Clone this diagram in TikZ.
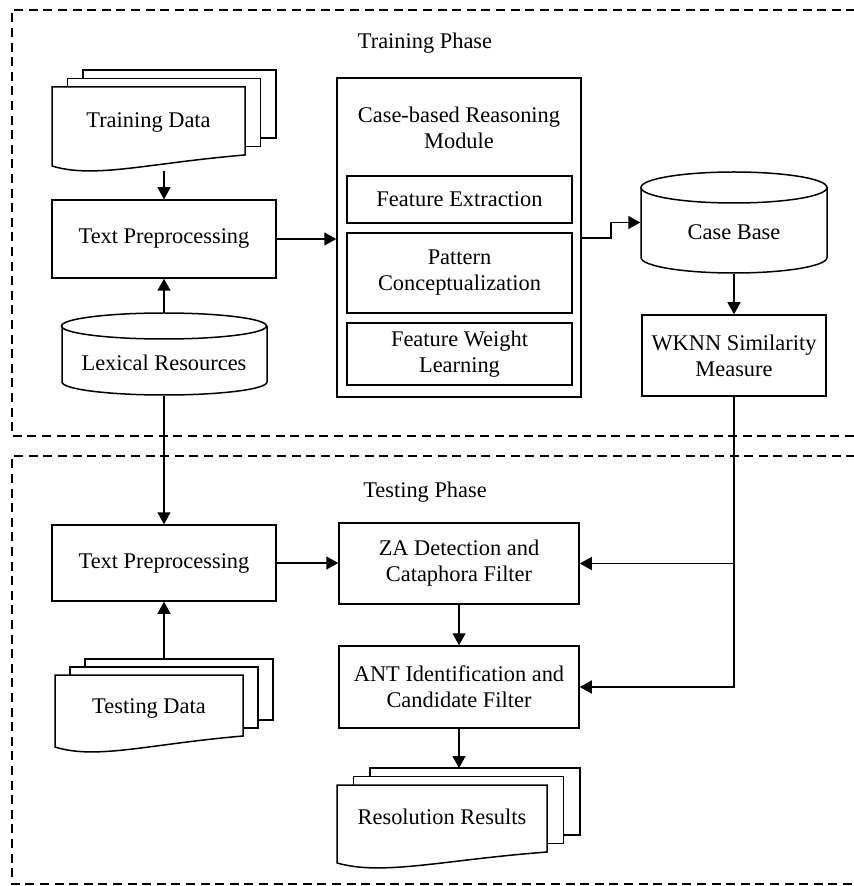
\documentclass[tikz,border=0pt]{standalone}
\usepackage{fontspec}
\setmainfont{Liberation Serif}
\usetikzlibrary{arrows.meta,calc}
\newcommand\docstack[6]{%
  \draw[fill=white] ({#1+2*#5},{#2-2*#6}) rectangle ({#1+#3+2*#5},{#2+#4-2*#6});
  \draw[fill=white] ({#1+#5},{#2-#6}) rectangle ({#1+#3+#5},{#2+#4-#6});
  \draw[fill=white] (#1,#2) -- ({#1+#3},#2) -- ({#1+#3},{#2+#4})
    .. controls ({#1+0.5*#3},{#2+#4+8}) and ({#1+0.22*#3},{#2+#4+24}) .. (#1,{#2+#4+11}) -- cycle;}
\begin{document}
\begin{tikzpicture}[x=0.5pt,y=-0.5pt,line width=0.75pt,
  lbl/.style={inner sep=0pt,align=center,font=\fontsize{11.2}{13}\selectfont},
  box/.style={lbl,draw,rectangle},
  arr/.style={-{Triangle[length=6pt,width=6.5pt]}},
  phase/.style={line width=0.7pt,dash pattern=on 4.5pt off 2.8pt}]
\useasboundingbox (0,0) rectangle (853,886);
% phases
\draw[phase] (870,10) -- (12,10) -- (12,436) -- (870,436);
\draw[phase] (870,456) -- (12,456) -- (12,884) -- (870,884);
\node[lbl] (trp) at (425,43) {Training Phase};
\node[lbl] (tsp) at (425,492) {Testing Phase};
% training
\docstack{52}{87}{193}{68}{15.5}{8.5}
\node[lbl] (td) at (148.5,123) {Training Data};
\coordinate (tdb) at (164,171);
\node[box,minimum width=112pt,minimum height=39pt] (tp1) at (164,239) {Text Preprocessing};
\node[inner sep=0pt,minimum width=102.5pt,minimum height=41pt] (lr) at (164,354) {};
\draw[fill=white] (62,326) -- (62,382) arc[start angle=180,end angle=360,x radius=51.25pt,y radius=6.5pt] -- (267,326);
\draw (164,326) ellipse[x radius=51.25pt,y radius=6.5pt];
\node[lbl] (lrt) at (164,363) {Lexical Resources};
\node[draw,inner sep=0pt,minimum width=122pt,minimum height=159.5pt] (cbr) at (459,237.5) {};
\node[lbl] (cbrt) at (459,128) {Case-based Reasoning\\Module};
\node[box,minimum width=112.5pt,minimum height=23.5pt] (fe) at (459.5,199.5) {Feature Extraction};
\node[box,minimum width=112.5pt,minimum height=40pt] (pc) at (459.5,273) {Pattern\\Conceptualization};
\node[box,minimum width=112.5pt,minimum height=31pt] (fw) at (459.5,354) {Feature Weight\\Learning};
\node[inner sep=0pt,minimum width=93pt,minimum height=50.5pt] (cb) at (734,222.5) {};
\draw[fill=white] (641,187.5) -- (641,257.5) arc[start angle=180,end angle=360,x radius=46.5pt,y radius=7.75pt] -- (827,187.5);
\draw (734,187.5) ellipse[x radius=46.5pt,y radius=7.75pt];
\node[lbl] (cbt) at (734,232) {Case Base};
\node[box,minimum width=92pt,minimum height=40.5pt] (wk) at (734,355.5) {WKNN Similarity\\Measure};
% testing
\node[box,minimum width=112pt,minimum height=38pt] (tp2) at (164,563) {Text Preprocessing};
\docstack{55}{675}{188}{61}{15}{8}
\node[lbl] (tsd) at (149,708) {Testing Data};
\coordinate (tsdt) at (164,659);
\node[box,minimum width=120pt,minimum height=40.5pt] (za) at (459,563.5) {ZA Detection and\\Cataphora Filter};
\node[box,minimum width=120pt,minimum height=41pt] (ant) at (459,687) {ANT Identification and\\Candidate Filter};
\docstack{337}{785}{210}{67}{16.5}{8.5}
\node[lbl] (rr) at (442,817) {Resolution Results};
\coordinate (rrt) at (459,768);
% connectors
\coordinate (s1) at (611,238);
\draw[arr] (tdb) -- (tp1.north);
\draw[arr] (lr.north) -- (tp1.south);
\draw[arr] (tp1.east) -- (tp1.east -| cbr.west);
\draw[arr] (cbr.east |- s1) -- (s1) |- (cb.west);
\draw[arr] (cb.south) -- (wk.north);
\draw[arr] (lr.south) -- (tp2.north);
\draw[arr] (tsdt) -- (tp2.south);
\draw[arr] (tp2.east) -- (tp2.east -| za.west);
\draw[arr] (wk.south) |- (za.east);
\draw[arr] (wk.south) |- (ant.east);
\draw[arr] (za.south) -- (ant.north);
\draw[arr] (ant.south) -- (rrt);
\end{tikzpicture}
\end{document}
